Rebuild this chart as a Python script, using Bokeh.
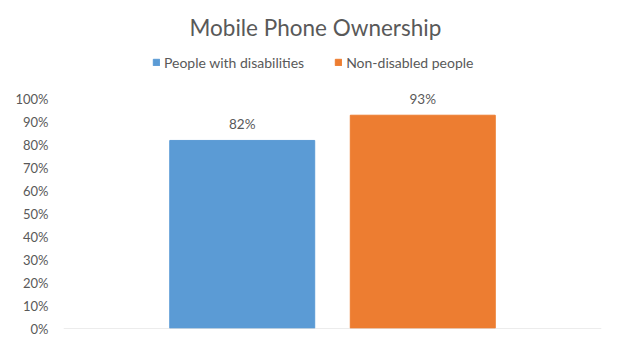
from bokeh.plotting import figure
from bokeh.models import FactorRange, Range1d, ColumnDataSource, LabelSet, Legend, LegendItem, NumeralTickFormatter, FixedTicker, Span
from bokeh.core.properties import value
from bokeh.embed import file_html
from bokeh.resources import INLINE

groups = ["People with disabilities", "Non-disabled people"]
ownership = [0.82, 0.93]
labels = ["82%", "93%"]
colors = ["#5B9BD5", "#ED7D31"]
y_ticks = [0.0, 0.1, 0.2, 0.3, 0.4, 0.5, 0.6, 0.7, 0.8, 0.9, 1.0]

FONT = "Lato"
TXT = "#595959"

src = ColumnDataSource(dict(group=groups, value=ownership, label=labels, color=colors))

p = figure(width=619, height=351, output_backend="svg", toolbar_location=None,
           x_range=FactorRange(*groups, range_padding=0.49, factor_padding=0.0),
           y_range=Range1d(0, 1.2035),
           min_border_left=63, min_border_right=18, min_border_bottom=23, min_border_top=50)

p.title.text = "Mobile Phone Ownership"
p.title.align = "left"
p.title.offset = 126
p.title.standoff = 23
p.title.text_font = FONT
p.title.text_font_size = "22.5px"
p.title.text_font_style = "normal"
p.title.text_color = TXT

r = p.vbar(x="group", top="value", width=0.803, color="color", source=src)

p.add_layout(Span(location=0, dimension="width", line_color="#D9D9D9", line_width=1))

p.add_layout(LabelSet(x="group", y="value", text="label", source=src, y_offset=16,
                      text_align="center", text_baseline="middle",
                      text_font_size=value("13.5px"), text_color=value(TXT), text_font=value(FONT)))

legend = Legend(items=[LegendItem(label=groups[0], renderers=[r], index=0),
                       LegendItem(label=groups[1], renderers=[r], index=1)],
                orientation="horizontal", location=(89, 257),
                glyph_width=8, glyph_height=8, label_standoff=4, spacing=30,
                label_height=18, padding=0, margin=0,
                border_line_color=None, background_fill_alpha=0,
                label_text_font=FONT, label_text_font_size="14px", label_text_color=TXT)
p.add_layout(legend)

p.xgrid.grid_line_color = None
p.ygrid.grid_line_color = None
p.outline_line_color = None

p.xaxis.visible = False

p.yaxis.ticker = FixedTicker(ticks=y_ticks)
p.yaxis.formatter = NumeralTickFormatter(format="0%")
p.yaxis.axis_line_color = None
p.yaxis.major_tick_line_color = None
p.yaxis.minor_tick_line_color = None
p.yaxis.major_tick_out = 0
p.yaxis.major_label_standoff = 15
p.yaxis.major_label_text_font = FONT
p.yaxis.major_label_text_font_size = "13px"
p.yaxis.major_label_text_color = TXT

open("out.html", "w").write(file_html(p, INLINE))
